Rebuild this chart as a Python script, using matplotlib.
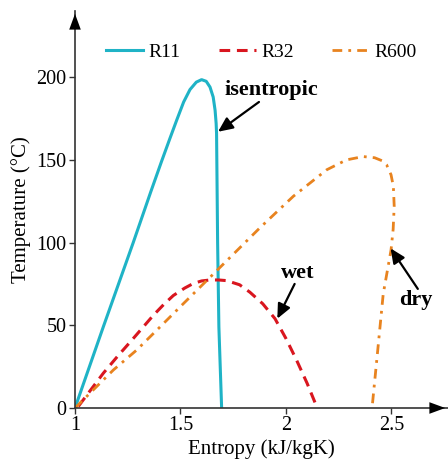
import matplotlib
matplotlib.use('Agg')
import matplotlib.pyplot as plt

# saturation curves
r11_s = [1.0, 1.134, 1.276, 1.36, 1.41, 1.45, 1.482, 1.515, 1.545, 1.575, 1.6, 1.622, 1.64, 1.655,
         1.664, 1.669, 1.671, 1.673, 1.676, 1.682, 1.695]
r11_t = [0, 49, 100, 131, 149, 163, 174, 185, 192.5, 197, 198.5, 197.5, 194, 188,
         180, 172, 166, 140, 100, 49, 0]

r32_s = [1.016, 1.134, 1.2, 1.276, 1.371, 1.42, 1.466, 1.52, 1.561, 1.6, 1.64, 1.68, 1.719,
         1.78, 1.829, 1.89, 1.948, 2.0, 2.05, 2.1, 2.145]
r32_t = [1, 21, 31, 42, 56, 62.5, 68, 72.5, 75.3, 76.8, 77.4, 77.4, 77,
         74.5, 70, 63, 54, 42, 29, 15, 1]

r600_s = [1.0, 1.182, 1.292, 1.403, 1.513, 1.624, 1.719, 1.877, 2.035, 2.193, 2.287, 2.366, 2.42,
          2.455, 2.477, 2.498, 2.509, 2.513, 2.508, 2.498, 2.461, 2.435, 2.408]
r600_t = [0, 23, 35, 49, 63, 77, 89, 109, 128, 144, 150, 152, 151.3,
          149.5, 147, 141, 134, 122, 108, 95.5, 69, 35, 0]

xticks = [1, 1.5, 2, 2.5]
yticks = [0, 50, 100, 150, 200]

plt.rcParams['font.family'] = ['Liberation Serif', 'DejaVu Serif']

fig = plt.figure(figsize=(4.48, 4.59), dpi=100)
ax = fig.add_axes([75 / 448, 51 / 459, 373 / 448, 397 / 459])

ax.plot(r11_s, r11_t, color='#1fb3c6', lw=2.2, label='R11')
ax.plot(r32_s, r32_t, color='#d9161f', lw=2.2, dashes=(3.5, 2.2), label='R32')
ax.plot(r600_s, r600_t, color='#e8831f', lw=2.0, dashes=(3.5, 2.2, 1, 2.2), label='R600')

ax.set_xlim(1, 2.768)
ax.set_ylim(0, 240)
ax.set_xticks(xticks)
ax.set_xticklabels(['1', '1.5', '2', '2.5'])
ax.set_yticks(yticks)
ax.tick_params(labelsize=14.5, length=4, width=1, color='#333333', pad=2)

for side in ['top', 'right']:
    ax.spines[side].set_visible(False)
for side in ['left', 'bottom']:
    ax.spines[side].set_color('#333333')
    ax.spines[side].set_linewidth(1.2)

# arrow heads on the axes
arr = dict(arrowstyle='-|>,head_length=0.6,head_width=0.22', color='black', lw=0, mutation_scale=19)
ax.annotate('', xy=(1, 0), xytext=(0.96, 0), xycoords='axes fraction', arrowprops=arr, annotation_clip=False)
ax.annotate('', xy=(0, 1), xytext=(0, 0.96), xycoords='axes fraction', arrowprops=arr, annotation_clip=False)

ax.set_xlabel('Entropy (kJ/kgK)', fontsize=15)
ax.xaxis.set_label_coords(0.5, -0.078)
ax.set_ylabel('Temperature (°C)', fontsize=15, labelpad=4)

ax.legend(loc='center', bbox_to_anchor=(0.5, 0.897), ncol=3, frameon=False,
          fontsize=14, handlelength=1.9, handletextpad=0.25, columnspacing=2.0)

# annotations
head = dict(arrowstyle='-|>,head_length=0.55,head_width=0.25', color='black', lw=1.6,
            mutation_scale=16, shrinkA=0, shrinkB=0)
ax.annotate('', xy=(1.678, 167), xytext=(1.872, 185), arrowprops=head)
ax.text(1.929, 192, 'isentropic', fontsize=16, fontweight='bold', ha='center', va='center')
ax.annotate('', xy=(1.959, 54), xytext=(2.041, 75), arrowprops=head)
ax.text(2.055, 81.6, 'wet', fontsize=16, fontweight='bold', ha='center', va='center')
ax.annotate('', xy=(2.496, 96.5), xytext=(2.625, 72), arrowprops=head)
ax.text(2.616, 65, 'dry', fontsize=16, fontweight='bold', ha='center', va='center')

fig.savefig('out.png', dpi=100)
